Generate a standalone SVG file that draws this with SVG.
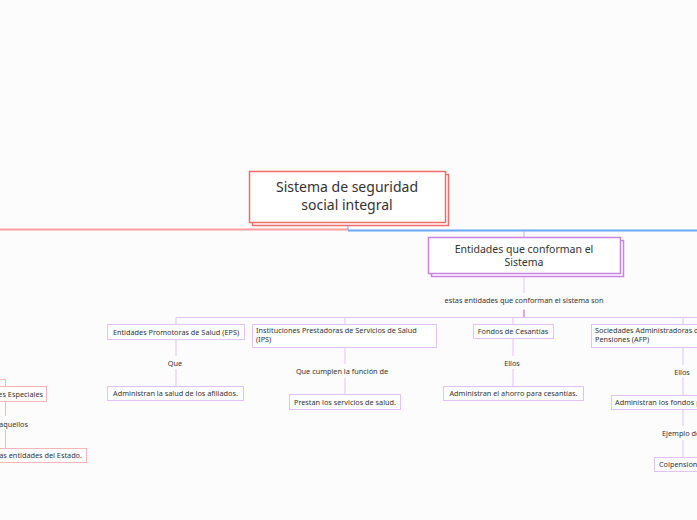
<svg xmlns="http://www.w3.org/2000/svg" width="697" height="520" viewBox="0 0 697 520">
<style>
text{font-family:"Noto Sans","DejaVu Sans",sans-serif;fill:#333}
.root{fill:#fff;stroke:#f26b6b;stroke-width:1.5}
.main{fill:#fff;stroke:#c982e6;stroke-width:1.5}
.sub{fill:#fff;stroke:#e4c2f5;stroke-width:1}
.subr{fill:#fff;stroke:#f7b5b5;stroke-width:1}
.pl{stroke:#e4c2f5;stroke-width:1;fill:none}
.rl{stroke:#f7b5b5;stroke-width:1;fill:none}
.s{font-size:7.3px}
.c{text-anchor:middle}
.e{text-anchor:end}
</style>
<rect width="697" height="520" fill="#fcfcfc"/>
<g id="connectors">
<path d="M0,229.5 H348" stroke="#ff9d9d" stroke-width="2" fill="none"/>
<path d="M348,226 V230" stroke="#6aa8f5" stroke-width="1" fill="none"/>
<path d="M348,230.5 H697" stroke="#6aa8f5" stroke-width="2" fill="none"/>
<path d="M524,231 V237" stroke="#d9a8f0" stroke-width="1" fill="none"/>
<path class="pl" d="M524,276 V293 M524,309 V318"/>
<path d="M524,310 V318" stroke="#c982e6" stroke-width="1.2" fill="none"/>
<path class="pl" d="M176,324 V317.5 H697 M345,317.5 V324 M513,317.5 V324 M683,317.5 V324"/>
<path class="pl" d="M176,339 V356 M176,369 V386"/>
<path class="pl" d="M345,347 V364 M345,378 V394"/>
<path class="pl" d="M513,338 V356 M513,369 V386"/>
<path class="pl" d="M683,347 V365 M683,378 V395 M683,409 V426 M683,440 V457"/>
<path class="rl" d="M0,379.5 H5.5 V386 M5.5,401 V416 M5.5,430 V448"/>
</g>
<g id="root">
<rect class="root" x="252.5" y="174.5" width="196" height="51"/>
<rect class="root" x="249.5" y="171.5" width="196" height="51"/>
<text class="c" x="347" y="192" font-size="14">Sistema de seguridad</text>
<text class="c" x="347" y="210" font-size="14">social integral</text>
</g>
<g id="entidades">
<rect class="main" x="431.5" y="240.5" width="192" height="36"/>
<rect class="main" x="428.5" y="237.5" width="192" height="36"/>
<text class="c" x="524" y="252.5" font-size="10.5">Entidades que conforman el</text>
<text class="c" x="524" y="266" font-size="10.5">Sistema</text>
</g>
<g id="label-son">
<text class="c s" x="524" y="302.5">estas entidades que conforman el sistema son</text>
</g>
<g id="eps">
<rect class="sub" x="107.5" y="324.5" width="137" height="15"/>
<text class="c s" x="176" y="334.5">Entidades Promotoras de Salud (EPS)</text>
<text class="c s" x="175" y="365.5">Que</text>
<rect class="sub" x="107.5" y="386.5" width="136" height="14"/>
<text class="c s" x="175.5" y="396">Administran la salud de los afiliados.</text>
</g>
<g id="ips">
<rect class="sub" x="252.5" y="324.5" width="184" height="23"/>
<text class="s" x="256" y="333">Instituciones Prestadoras de Servicios de Salud</text>
<text class="s" x="256" y="342">(IPS)</text>
<text class="c s" x="342" y="374">Que cumplen la función de</text>
<rect class="sub" x="289.5" y="394.5" width="111" height="15"/>
<text class="c s" x="345" y="404.5">Prestan los servicios de salud.</text>
</g>
<g id="fondos">
<rect class="sub" x="473.5" y="324.5" width="80" height="14"/>
<text class="c s" x="513" y="334">Fondos de Cesantías</text>
<text class="c s" x="512" y="365.5">Ellos</text>
<rect class="sub" x="443.5" y="386.5" width="140" height="14"/>
<text class="c s" x="513.5" y="396">Administran el ahorro para cesantías.</text>
</g>
<g id="afp">
<rect class="sub" x="591.5" y="324.5" width="184" height="23"/>
<text class="s" x="595" y="333">Sociedades Administradoras de</text>
<text class="s" x="595" y="342">Pensiones (AFP)</text>
<text class="c s" x="682" y="374.5">Ellos</text>
<rect class="sub" x="611.5" y="395.5" width="144" height="14"/>
<text class="s" x="615" y="405">Administran los fondos pensionales.</text>
<text class="s" x="662" y="436">Ejemplo de</text>
<rect class="sub" x="654.5" y="457.5" width="60" height="14"/>
<text class="s" x="659" y="467">Colpensiones</text>
</g>
<g id="especiales">
<rect class="subr" x="-40.5" y="386.5" width="87" height="15"/>
<text class="e s" x="43" y="396.5">es Especiales</text>
<text class="e s" x="28" y="426.5">aquellos</text>
<rect class="subr" x="-80.5" y="448.5" width="167" height="14"/>
<text class="e s" x="82" y="458">as entidades del Estado.</text>
</g>
</svg>
